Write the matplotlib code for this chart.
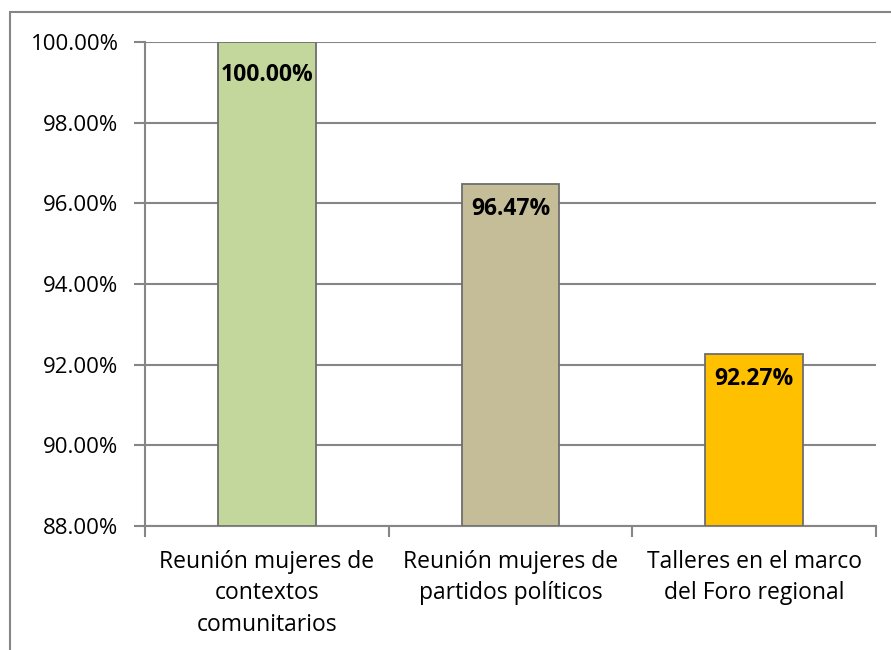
import numpy as np
import matplotlib
matplotlib.use('Agg')
import matplotlib.pyplot as plt
from matplotlib.patches import Rectangle
from matplotlib.ticker import FuncFormatter

categories = ["Reunión mujeres de\ncontextos\ncomunitarios",
              "Reunión mujeres de\npartidos políticos",
              "Talleres en el marco\ndel Foro regional"]
values = [100.00, 96.47, 92.27]
colors = ['#C3D69B', '#C4BD97', '#FFC000']
value_labels = ["100.00%", "96.47%", "92.27%"]

plt.rcParams['font.family'] = ['Open Sans', 'DejaVu Sans']
grid_col = '#868686'

fig = plt.figure(figsize=(8.91, 6.5), dpi=100)
W, H = 891, 650
ax = fig.add_axes([145 / W, 1 - 526 / H, (876 - 145) / W, (526 - 42) / H])

# outer chart frame (only left and top show in the crop)
fig.patches.append(Rectangle((10 / W, -0.1), 1.2, 1 - 12 / H + 0.1,
                             transform=fig.transFigure, fill=False,
                             edgecolor=grid_col, linewidth=1.5))

x = np.arange(len(categories))
ax.bar(x, [v - 88 for v in values], bottom=88, width=0.4, color=colors,
       edgecolor='#6E6E6E', linewidth=1.3, zorder=3)

# label offset below bar top (first one sits a bit lower, like the original)
offsets = [-24, -18, -18]
for xi, v, lab, off in zip(x, values, value_labels, offsets):
    ax.annotate(lab, (xi, v), xytext=(0, off), textcoords='offset points',
                ha='center', va='center', fontsize=16.5,
                fontweight='bold', color='black', zorder=4)

ax.set_xlim(-0.5, 2.5)
ax.set_ylim(88, 100)
ax.set_yticks(np.arange(88, 100.1, 2))
ax.yaxis.set_major_formatter(FuncFormatter(lambda v, p: f"{v:.2f}%"))
ax.set_xticks(x)
ax.set_xticklabels(categories, fontsize=16.5, linespacing=1.42)
ax.set_xticks([-0.5, 0.5, 1.5, 2.5], minor=True)
ax.tick_params(axis='x', which='major', length=0, pad=17)
ax.tick_params(axis='x', which='minor', length=8, color=grid_col, width=1.5)
ax.tick_params(axis='y', length=8, color=grid_col, width=1.5, labelsize=16, pad=11)

ax.grid(axis='y', color=grid_col, linewidth=1.5, zorder=0)
ax.set_axisbelow(True)
for s in ['top', 'right']:
    ax.spines[s].set_visible(False)
for s in ['left', 'bottom']:
    ax.spines[s].set_color(grid_col)
    ax.spines[s].set_linewidth(1.5)

fig.savefig('out.png', dpi=100)
